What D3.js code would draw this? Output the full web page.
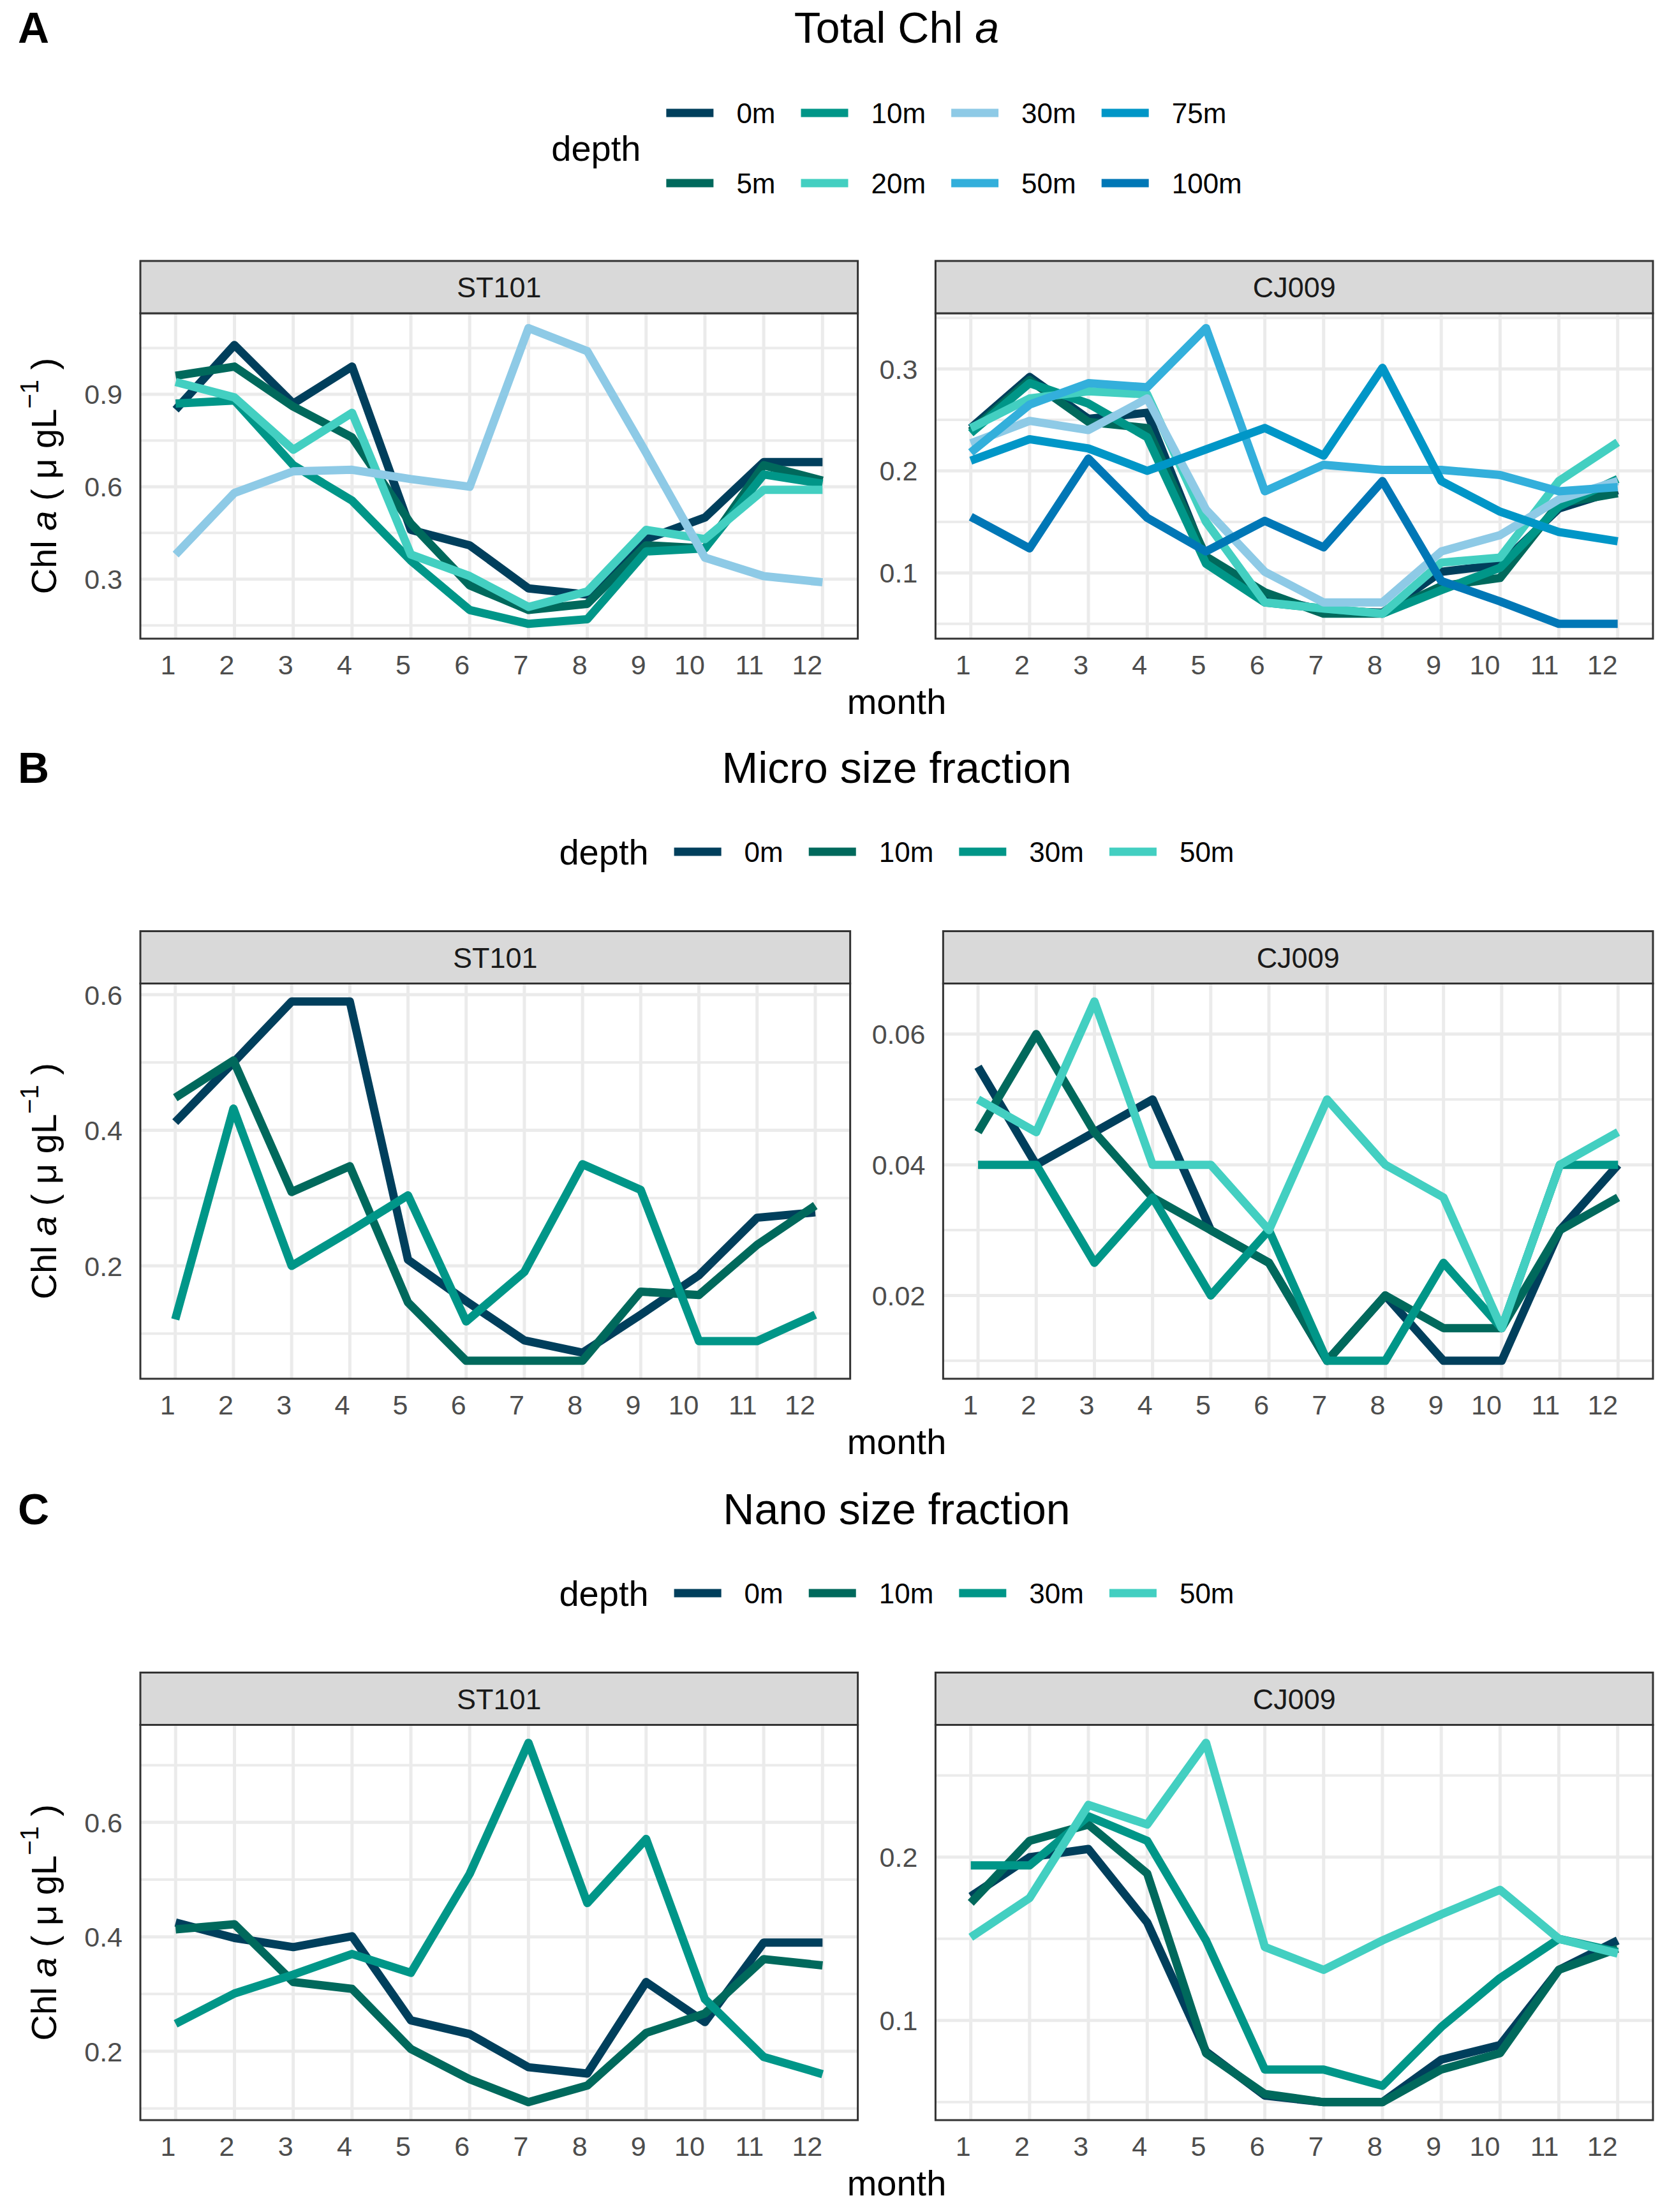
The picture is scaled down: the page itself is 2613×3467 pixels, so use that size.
<!DOCTYPE html>
<html>
<head>
<meta charset="utf-8">
<script src="https://cdn.jsdelivr.net/npm/d3@7/dist/d3.min.js"></script>
<style>
  body { margin: 0; background: #fff; }
  text { font-family: "Liberation Sans", Arial, sans-serif; }
</style>
</head>
<body>
<svg id="chart"></svg>
<script>
// ---- data ----
var months = [1, 2, 3, 4, 5, 6, 7, 8, 9, 10, 11, 12];
var stations = ["ST101", "CJ009"];
var depthsTotal = ["0m", "5m", "10m", "20m", "30m", "50m", "75m", "100m"];
var depthsSize = ["0m", "10m", "30m", "50m"];

// A: Total Chl a
var total_ST101_0m  = [0.85, 1.06, 0.87, 0.99, 0.46, 0.41, 0.27, 0.25, 0.43, 0.50, 0.68, 0.68];
var total_ST101_5m  = [0.96, 0.99, 0.86, 0.76, 0.48, 0.28, 0.20, 0.22, 0.41, 0.40, 0.67, 0.62];
var total_ST101_10m = [0.87, 0.88, 0.67, 0.555, 0.36, 0.20, 0.155, 0.17, 0.39, 0.40, 0.64, 0.61];
var total_ST101_20m = [0.94, 0.89, 0.72, 0.84, 0.38, 0.31, 0.21, 0.26, 0.46, 0.43, 0.59, 0.59];
var total_ST101_30m = [0.38, 0.58, 0.65, 0.655, 0.625, 0.60, 1.115, 1.04, 0.71, 0.37, 0.31, 0.29];

var total_CJ009_0m   = [0.242, 0.292, 0.251, 0.257, 0.113, 0.077, 0.063, 0.061, 0.101, 0.108, 0.163, 0.181];
var total_CJ009_5m   = [0.239, 0.289, 0.248, 0.242, 0.116, 0.081, 0.060, 0.060, 0.087, 0.095, 0.168, 0.178];
var total_CJ009_10m  = [0.237, 0.286, 0.266, 0.233, 0.109, 0.071, 0.065, 0.060, 0.083, 0.105, 0.165, 0.192];
var total_CJ009_20m  = [0.242, 0.271, 0.278, 0.275, 0.150, 0.071, 0.065, 0.060, 0.110, 0.115, 0.190, 0.228];
var total_CJ009_30m  = [0.227, 0.249, 0.240, 0.271, 0.162, 0.101, 0.071, 0.071, 0.121, 0.137, 0.172, 0.190];
var total_CJ009_50m  = [0.218, 0.265, 0.286, 0.282, 0.340, 0.180, 0.206, 0.201, 0.201, 0.196, 0.180, 0.184];
var total_CJ009_75m  = [0.210, 0.231, 0.222, 0.200, 0.221, 0.242, 0.215, 0.301, 0.190, 0.160, 0.140, 0.131];
var total_CJ009_100m = [0.155, 0.124, 0.212, 0.154, 0.121, 0.151, 0.125, 0.190, 0.092, 0.072, 0.050, 0.050];

// B: Micro size fraction
var micro_ST101_0m  = [0.412, 0.50, 0.59, 0.59, 0.209, 0.148, 0.09, 0.072, 0.128, 0.186, 0.271, 0.279];
var micro_ST101_10m = [0.448, 0.503, 0.309, 0.347, 0.146, 0.06, 0.06, 0.06, 0.162, 0.157, 0.231, 0.289];
var micro_ST101_30m = [0.121, 0.432, 0.20, 0.251, 0.304, 0.118, 0.191, 0.35, 0.312, 0.089, 0.089, 0.128];

var micro_CJ009_0m  = [0.055, 0.040, 0.045, 0.050, 0.030, 0.025, 0.010, 0.020, 0.010, 0.010, 0.030, 0.040];
var micro_CJ009_10m = [0.045, 0.060, 0.045, 0.035, 0.030, 0.025, 0.010, 0.020, 0.015, 0.015, 0.030, 0.035];
var micro_CJ009_30m = [0.040, 0.040, 0.025, 0.035, 0.020, 0.030, 0.010, 0.010, 0.025, 0.015, 0.040, 0.040];
var micro_CJ009_50m = [0.050, 0.045, 0.065, 0.040, 0.040, 0.030, 0.050, 0.040, 0.035, 0.015, 0.040, 0.045];

// C: Nano size fraction
var nano_ST101_0m  = [0.425, 0.398, 0.382, 0.401, 0.254, 0.23, 0.172, 0.161, 0.321, 0.251, 0.39, 0.39];
var nano_ST101_10m = [0.413, 0.422, 0.321, 0.309, 0.204, 0.151, 0.111, 0.14, 0.232, 0.266, 0.361, 0.35];
var nano_ST101_30m = [0.248, 0.301, 0.334, 0.37, 0.337, 0.51, 0.739, 0.459, 0.571, 0.291, 0.19, 0.16];

var nano_CJ009_0m  = [0.176, 0.200, 0.205, 0.160, 0.081, 0.054, 0.050, 0.050, 0.076, 0.085, 0.131, 0.149];
var nano_CJ009_10m = [0.172, 0.210, 0.220, 0.190, 0.080, 0.055, 0.050, 0.050, 0.070, 0.080, 0.131, 0.144];
var nano_CJ009_30m = [0.195, 0.195, 0.225, 0.210, 0.149, 0.070, 0.070, 0.060, 0.096, 0.126, 0.150, 0.142];
var nano_CJ009_50m = [0.151, 0.175, 0.232, 0.220, 0.270, 0.145, 0.131, 0.149, 0.165, 0.180, 0.150, 0.141];

// y tick labels per panel
var ticksTotal = { ST101: [0.3, 0.6, 0.9], CJ009: [0.1, 0.2, 0.3] };
var ticksMicro = { ST101: [0.2, 0.4, 0.6], CJ009: [0.02, 0.04, 0.06] };
var ticksNano  = { ST101: [0.2, 0.4, 0.6], CJ009: [0.1, 0.2] };

// ---- styles ----
var colorsTotal = ["#003F5C", "#00695C", "#009688", "#43CFC1", "#8ECAE6", "#33AFDB", "#0096C7", "#0077B6"];
var colorsSize  = ["#003F5C", "#00695C", "#009688", "#43CFC1"];

var sections = [
  {
    label: "A", title: "Total Chl ", titleItalic: "a",
    depths: depthsTotal, colors: colorsTotal, legendRows: 2, ticks: ticksTotal,
    series: {
      ST101: { "0m": total_ST101_0m, "5m": total_ST101_5m, "10m": total_ST101_10m, "20m": total_ST101_20m, "30m": total_ST101_30m },
      CJ009: { "0m": total_CJ009_0m, "5m": total_CJ009_5m, "10m": total_CJ009_10m, "20m": total_CJ009_20m,
               "30m": total_CJ009_30m, "50m": total_CJ009_50m, "75m": total_CJ009_75m, "100m": total_CJ009_100m }
    }
  },
  {
    label: "B", title: "Micro size fraction", titleItalic: "",
    depths: depthsSize, colors: colorsSize, legendRows: 1, ticks: ticksMicro,
    series: {
      ST101: { "0m": micro_ST101_0m, "10m": micro_ST101_10m, "30m": micro_ST101_30m },
      CJ009: { "0m": micro_CJ009_0m, "10m": micro_CJ009_10m, "30m": micro_CJ009_30m, "50m": micro_CJ009_50m }
    }
  },
  {
    label: "C", title: "Nano size fraction", titleItalic: "",
    depths: depthsSize, colors: colorsSize, legendRows: 1, ticks: ticksNano,
    series: {
      ST101: { "0m": nano_ST101_0m, "10m": nano_ST101_10m, "30m": nano_ST101_30m },
      CJ009: { "0m": nano_CJ009_0m, "10m": nano_CJ009_10m, "30m": nano_CJ009_30m, "50m": nano_CJ009_50m }
    }
  }
];

// ---- layout ----
var W = 2613, H = 3467;
var sectionTop = [0, 1160, 2322];
var plotLeft = 220, plotRight = 2591, centerX = (plotLeft + plotRight) / 2;
var stripH = 82, panelBottom = 1001, tickBase = 1057, monthBase = 1119;
var lineW = 13, tickSize = 43;

var svg = d3.select("#chart").attr("width", W).attr("height", H);
svg.append("rect").attr("width", W).attr("height", H).attr("fill", "#fff");

function textWidth(str, size) {
  var t = svg.append("text").style("font-size", size + "px").text(str);
  var w = t.node().getComputedTextLength();
  t.remove();
  return w;
}

var fmt = function (v) { return String(+v.toFixed(4)); };

sections.forEach(function (sec, si) {
  var g = svg.append("g").attr("transform", "translate(0," + sectionTop[si] + ")");
  var twoRows = sec.legendRows === 2;
  var stripTop = twoRows ? 409 : 299.5;
  var panelTop = stripTop + stripH;

  // panel label and title
  g.append("text").attr("x", 28).attr("y", 67)
    .style("font-size", "68px").style("font-weight", "bold").text(sec.label);
  var title = g.append("text").attr("x", centerX).attr("y", 67)
    .attr("text-anchor", "middle").style("font-size", "68px");
  title.append("tspan").text(sec.title);
  if (sec.titleItalic) title.append("tspan").style("font-style", "italic").text(sec.titleItalic);

  // legend
  var legY = twoRows ? [177, 287] : [175];
  var lg = g.append("g");
  var titleY = d3.mean(legY);
  lg.append("text").attr("x", 0).attr("y", titleY).attr("dy", "0.36em")
    .style("font-size", "56px").text("depth");
  var cx = textWidth("depth", 56) + 40;
  var ncol = Math.ceil(sec.depths.length / sec.legendRows);
  for (var c = 0; c < ncol; c++) {
    var maxW = 0;
    for (var r = 0; r < sec.legendRows; r++) {
      var idx = c * sec.legendRows + r;
      if (idx >= sec.depths.length) continue;
      lg.append("line").attr("x1", cx).attr("x2", cx + 74)
        .attr("y1", legY[r]).attr("y2", legY[r])
        .attr("stroke", sec.colors[idx]).attr("stroke-width", lineW);
      lg.append("text").attr("x", cx + 74 + 36).attr("y", legY[r]).attr("dy", "0.36em")
        .style("font-size", "44px").text(sec.depths[idx]);
      maxW = Math.max(maxW, textWidth(sec.depths[idx], 44));
    }
    cx += 74 + 36 + maxW + (c < ncol - 1 ? 40 : 0);
  }
  lg.attr("transform", "translate(" + (centerX - cx / 2) + ",0)");

  // panel positions
  var rightLabW = d3.max(sec.ticks.CJ009, function (v) { return textWidth(fmt(v), tickSize); });
  var gap = 62 + rightLabW;
  var panelW = (plotRight - plotLeft - gap) / 2;
  var lefts = [plotLeft, plotLeft + panelW + gap];

  stations.forEach(function (st, pi) {
    var x0 = lefts[pi], x1 = x0 + panelW;
    var x = d3.scalePoint().domain(months).range([x0, x1]).padding(0.6);

    var ser = sec.series[st];
    var keys = sec.depths.filter(function (d) { return ser[d]; });
    var allVals = [];
    keys.forEach(function (k) { allVals = allVals.concat(ser[k]); });
    var ext = d3.extent(allVals), pad = (ext[1] - ext[0]) * 0.05;
    var y = d3.scaleLinear().domain([ext[0] - pad, ext[1] + pad]).range([panelBottom, panelTop]);

    var ticks = sec.ticks[st];
    var step = ticks[1] - ticks[0];
    var minor = [];
    for (var i = 0; i <= ticks.length; i++) {
      var mv = ticks[0] - step / 2 + i * step;
      if (mv >= y.domain()[0] && mv <= y.domain()[1]) minor.push(mv);
    }

    var clipId = "clip" + si + pi;
    g.append("clipPath").attr("id", clipId).append("rect")
      .attr("x", x0).attr("y", panelTop).attr("width", panelW).attr("height", panelBottom - panelTop);

    var pg = g.append("g").attr("clip-path", "url(#" + clipId + ")");
    pg.selectAll(".gminor").data(minor).enter().append("line")
      .attr("x1", x0).attr("x2", x1).attr("y1", y).attr("y2", y)
      .attr("stroke", "#EBEBEB").attr("stroke-width", 4);
    pg.selectAll(".gmajor").data(ticks).enter().append("line")
      .attr("x1", x0).attr("x2", x1).attr("y1", y).attr("y2", y)
      .attr("stroke", "#EBEBEB").attr("stroke-width", 5);
    pg.selectAll(".gx").data(months).enter().append("line")
      .attr("x1", x).attr("x2", x).attr("y1", panelTop).attr("y2", panelBottom)
      .attr("stroke", "#EBEBEB").attr("stroke-width", 5);

    var line = d3.line().x(function (d, i) { return x(months[i]); }).y(function (d) { return y(d); });
    keys.forEach(function (k) {
      pg.append("path").attr("d", line(ser[k])).attr("fill", "none")
        .attr("stroke", sec.colors[sec.depths.indexOf(k)])
        .attr("stroke-width", lineW).attr("stroke-linejoin", "round").attr("stroke-linecap", "butt");
    });

    g.append("rect").attr("x", x0).attr("y", panelTop).attr("width", panelW).attr("height", panelBottom - panelTop)
      .attr("fill", "none").attr("stroke", "#333333").attr("stroke-width", 3);

    // strip
    g.append("rect").attr("x", x0).attr("y", stripTop).attr("width", panelW).attr("height", stripH)
      .attr("fill", "#D9D9D9").attr("stroke", "#333333").attr("stroke-width", 3);
    g.append("text").attr("x", (x0 + x1) / 2).attr("y", stripTop + 57).attr("text-anchor", "middle")
      .style("font-size", "45px").attr("fill", "#1A1A1A").text(st);

    // tick labels
    g.selectAll(null).data(months).enter().append("text")
      .attr("x", x).attr("y", tickBase).attr("text-anchor", "end")
      .style("font-size", tickSize + "px").attr("fill", "#4D4D4D").text(function (d) { return d; });
    g.selectAll(null).data(ticks).enter().append("text")
      .attr("x", x0 - 28).attr("y", y).attr("dy", "0.36em").attr("text-anchor", "end")
      .style("font-size", tickSize + "px").attr("fill", "#4D4D4D").text(fmt);
  });

  // axis titles
  g.append("text").attr("x", centerX).attr("y", monthBase).attr("text-anchor", "middle")
    .style("font-size", "56px").text("month");
  var yt = g.append("text").attr("text-anchor", "middle").style("font-size", "56px")
    .attr("transform", "translate(88," + ((panelTop + panelBottom) / 2) + ") rotate(-90)");
  yt.append("tspan").text("Chl ");
  yt.append("tspan").style("font-style", "italic").text("a");
  yt.append("tspan").text(" ( \u03bc gL");
  yt.append("tspan").attr("dy", -28).style("font-size", "40px").text("\u22121");
  yt.append("tspan").attr("dy", 28).text(" )");
});
</script>
</body>
</html>
